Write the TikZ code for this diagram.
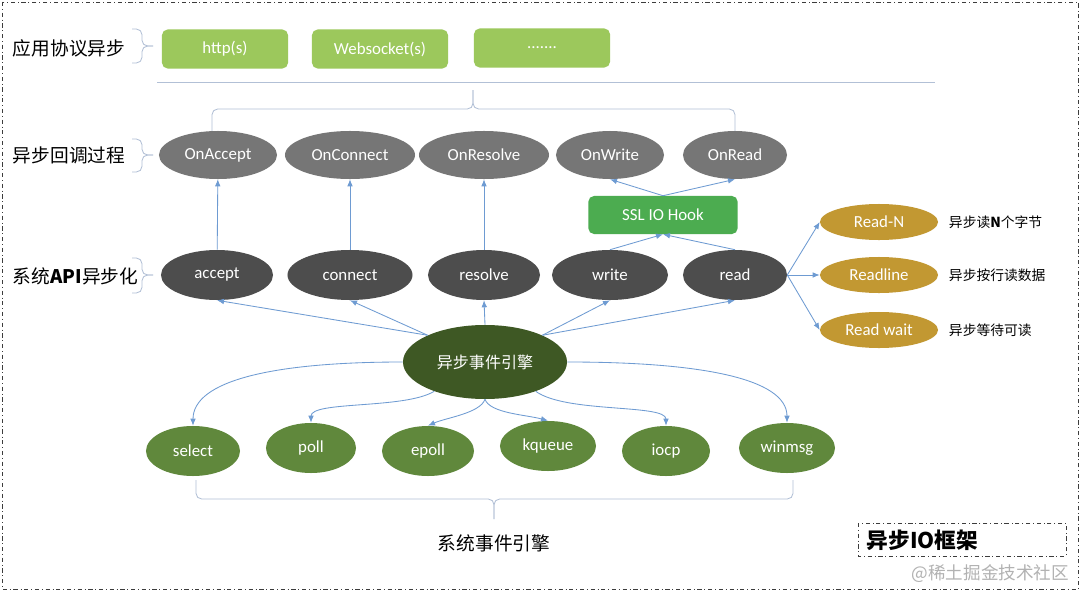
\documentclass[tikz,border=0pt]{standalone}
\usepackage{fontspec}
\setmainfont{Carlito}
\newfontfamily\cjk{Noto Sans CJK SC}
\usepackage{xcolor}
\definecolor{appgreen}{RGB}{156,200,92}
\definecolor{cbgray}{RGB}{118,118,118}
\definecolor{apidark}{RGB}{77,77,77}
\definecolor{sslgreen}{RGB}{76,172,80}
\definecolor{readgold}{RGB}{194,152,50}
\definecolor{enggreen}{RGB}{62,88,36}
\definecolor{evgreen}{RGB}{96,136,60}
\definecolor{flowblue}{RGB}{110,155,210}
\definecolor{bracecol}{RGB}{178,192,214}
\definecolor{framegray}{RGB}{60,60,60}
\usepackage{tikz}
\usetikzlibrary{arrows.meta, shapes.geometric}

\begin{document}
\begin{tikzpicture}[x=0.025cm, y=-0.025cm,
  protobox/.style={rectangle, rounded corners=4pt, fill=appgreen, text=white,
    minimum width=3.4cm, minimum height=0.975cm, inner sep=0pt, font=\fontsize{12}{14}\selectfont},
  cbnode/.style={ellipse, fill=cbgray, text=white, minimum height=1.2cm, inner sep=0pt,
    font=\fontsize{12}{14}\selectfont},
  apinode/.style={ellipse, fill=apidark, text=white, minimum height=1.25cm, inner sep=0pt,
    font=\fontsize{12}{14}\selectfont},
  rdnode/.style={ellipse, fill=readgold, text=white, minimum width=2.95cm, minimum height=0.9cm,
    inner sep=0pt, font=\fontsize{12}{14}\selectfont},
  evnode/.style={ellipse, fill=evgreen, text=white, minimum height=1.25cm, inner sep=0pt,
    font=\fontsize{12}{14}\selectfont},
  flow/.style={draw=flowblue, line width=0.6pt, -{Latex[length=5pt,width=4pt]}},
  bracket/.style={draw=bracecol, line width=0.6pt, rounded corners=4pt},
  lvl/.style={anchor=west, font=\cjk\fontsize{13.3}{16}\selectfont},
  note/.style={anchor=west, font=\cjk\fontsize{9.8}{12}\selectfont}]

  % background and outer frame
  \fill[white] (0,0) rectangle (1080,592);
  \useasboundingbox (0,0) rectangle (1080,592);
  \draw[framegray, line width=0.6pt, dash dot] (2,2) rectangle (1078,589);

  % --- Layer labels ---
  \node[lvl] (lapp) at (8,48) {应用协议异步};
  \node[lvl] (lcb)  at (8,155) {异步回调过程};
  \node[lvl] (lapi) at (8,276) {系统\textbf{API}异步化};
  \draw[bracket] (132,29) -| (142,46) -- (153,46);
  \draw[bracket] (132,63) -| (142,46) -- (153,46);
  \draw[bracket] (132,139) -| (142,155) -- (153,155);
  \draw[bracket] (132,172) -| (142,155) -- (153,155);
  \draw[bracket] (132,258) -| (142,275) -- (153,275);
  \draw[bracket] (132,293) -| (142,275) -- (153,275);

  % --- Application protocols ---
  \node[protobox, minimum width=3.15cm] (http) at (225,49) {http(s)};
  \node[protobox] (wsock) at (380,49) {Websocket(s)};
  \node[protobox] (more) at (542,48) {.......};
  \draw[bracecol, line width=0.6pt] (157,82) -- (935,82);
  \draw[bracket] (212,131) |- (473,109) -- (473,90);
  \draw[bracket] (735,131) |- (473,109) -- (473,90);

  % --- Callbacks ---
  \node[cbnode, minimum width=2.95cm] (onacc) at (218,155) {OnAccept};
  \node[cbnode, minimum width=3.25cm] (oncon) at (350,155) {OnConnect};
  \node[cbnode, minimum width=3.25cm] (onres) at (484,155) {OnResolve};
  \node[cbnode, minimum width=2.7cm]  (onwr)  at (610,155) {OnWrite};
  \node[cbnode, minimum width=2.6cm]  (onrd)  at (735,155) {OnRead};
  \node[rectangle, rounded corners=4pt, fill=sslgreen, text=white, minimum width=3.73cm,
    minimum height=0.95cm, font=\fontsize{12}{14}\selectfont] (ssl) at (663,215) {SSL IO Hook};

  % --- System API ---
  \node[apinode, minimum width=2.8cm]   (acc) at (217,275) {accept};
  \node[apinode, minimum width=3.125cm] (con) at (350,275) {connect};
  \node[apinode, minimum width=2.8cm]   (res) at (484,275) {resolve};
  \node[apinode, minimum width=2.9cm]   (wr)  at (610,275) {write};
  \node[apinode, minimum width=2.6cm]   (rd)  at (735,275) {read};

  % read variants
  \node[rdnode] (rdn)  at (879,222) {Read-N};
  \node[rdnode] (rdl)  at (879,275) {Readline};
  \node[rdnode] (rdw)  at (879,330) {Read wait};
  \node[note] (nrdn) at (944,222) {异步读\textbf{N}个字节};
  \node[note] (nrdl) at (944,275) {异步按行读数据};
  \node[note] (nrdw) at (944,330) {异步等待可读};

  % --- Event engine ---
  \node[ellipse, fill=enggreen, text=white, minimum width=4.1cm, minimum height=1.85cm,
    inner sep=0pt, font=\cjk\fontsize{11.4}{14}\selectfont] (eng) at (485,362) {异步事件引擎};
  \node[evnode, minimum width=2.35cm] (sel)  at (193,451) {select};
  \node[evnode, minimum width=2.25cm] (poll) at (311,448) {poll};
  \node[evnode, minimum width=2.3cm]  (epl)  at (428,451) {epoll};
  \node[evnode, minimum width=2.4cm]  (kq)   at (548,446) {kqueue};
  \node[evnode, minimum width=2.2cm]  (iocp) at (666,451) {iocp};
  \node[evnode, minimum width=2.4cm]  (wmsg) at (787,448) {winmsg};
  \draw[bracket] (196,480) |- (494,499) -- (494,519);
  \draw[bracket] (793,480) |- (494,499) -- (494,519);
  \node[font=\cjk\fontsize{13.3}{16}\selectfont] (lsys) at (494,543) {系统事件引擎};

  % --- Connectors ---
  \draw[flow] (acc) -- (onacc);
  \draw[flow] (con) -- (oncon);
  \draw[flow] (res) -- (onres);
  \draw[flow] (wr.north) -- (ssl.south);
  \draw[flow] (rd.north) -- (ssl.south);
  \draw[flow] (ssl.north) -- (onwr.south);
  \draw[flow] (ssl.north) -- (onrd.south);
  \draw[flow] (eng.155) -- (acc.south);
  \draw[flow] (eng.155) -- (con.south);
  \draw[flow] (eng.north) -- (res.south);
  \draw[flow] (eng.25) -- (wr.south);
  \draw[flow] (eng.25) -- (rd.south);
  \draw[flow] (rd.east) -- (rdn.west);
  \draw[flow] (rd.east) -- (rdl.west);
  \draw[flow] (rd.east) -- (rdw.west);
  \draw[flow] (eng.west) .. controls +(-130,0) and +(0,-45) .. (sel.north);
  \draw[flow] (eng.210) .. controls +(-30,18) and +(0,-22) .. (poll.north);
  \draw[flow] (eng.south) .. controls +(-5,14) and +(18,-8) .. (epl.north);
  \draw[flow] (eng.south) .. controls +(5,14) and +(-22,-6) .. (kq.north);
  \draw[flow] (eng.-30) .. controls +(30,22) and +(0,-22) .. (iocp.north);
  \draw[flow] (eng.east) .. controls +(130,0) and +(0,-45) .. (wmsg.north);

  % --- Title box ---
  \draw[framegray, line width=0.6pt, dash dot] (858,523) rectangle (1066,556);
  \node[anchor=west, font=\cjk\bfseries\fontsize{15.4}{18}\selectfont] (ttl) at (862,540) {异步IO框架};
  \node[anchor=east, text=black!30, font=\cjk\fontsize{12.5}{14}\selectfont] (wm) at (1074,574) {@稀土掘金技术社区};
\end{tikzpicture}
\end{document}
